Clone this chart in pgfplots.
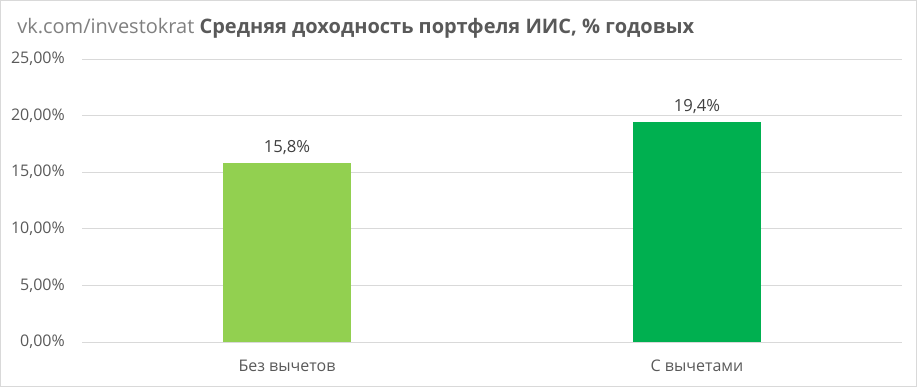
\documentclass[border=0pt]{standalone}
\usepackage{fontspec}
\setmainfont{Open Sans}
\usepackage{pgfplots}
\pgfplotsset{compat=1.18}
\definecolor{lgreen}{HTML}{92D050}
\definecolor{dgreen}{HTML}{00B050}
\definecolor{txt}{HTML}{595959}
\definecolor{lbl}{HTML}{404040}
\definecolor{ttlgray}{HTML}{7F7F7F}
\definecolor{gridc}{HTML}{D9D9D9}
\begin{document}
\begin{tikzpicture}
\draw[gridc, line width=0.75pt] (0.375pt,0.375pt) rectangle (687.375pt,289.875pt);
\node[anchor=base west, inner sep=0pt, font=\fontsize{15}{17}\selectfont] at (12.75pt,265.5pt)
  {\textcolor{ttlgray}{vk.com/investokrat} \textcolor{txt}{\bfseries Средняя доходность портфеля ИИС, \% годовых}};
\begin{axis}[
  at={(61.5pt,33.75pt)}, anchor=south west,
  scale only axis, width=615pt, height=212.25pt,
  xmin=-0.5, xmax=1.5, ymin=0, ymax=25,
  ytick={0,5,...,25}, xtick={0,1},
  xticklabels={Без вычетов, С вычетами},
  axis line style={draw=none},
  major tick length=0pt, tick style={draw=none},
  ymajorgrids, grid style={gridc, line width=0.75pt},
  /pgf/number format/assume math mode=true,
  yticklabel={\pgfmathprintnumber[fixed,fixed zerofill,precision=2,use comma]{\tick}\%},
  yticklabel style={font=\fontsize{12}{14}\selectfont, color=txt, inner sep=0pt, anchor=east, xshift=-12.75pt},
  xticklabel style={font=\fontsize{12}{14}\selectfont, color=txt, inner sep=0pt, anchor=north, yshift=-13.5pt},
  nodes near coords={\pgfmathprintnumber[fixed,fixed zerofill,precision=1,use comma]{\pgfplotspointmeta}\%},
  nodes near coords style={font=\fontsize{12.5}{14}\selectfont, color=lbl, inner sep=0pt, anchor=south, yshift=6.5pt},
]
\addplot[ybar, bar width=96pt, bar shift=0pt, fill=lgreen, draw=none] coordinates {(0,15.8)};
\addplot[ybar, bar width=96pt, bar shift=0pt, fill=dgreen, draw=none] coordinates {(1,19.4)};
\end{axis}
\end{tikzpicture}
\end{document}
